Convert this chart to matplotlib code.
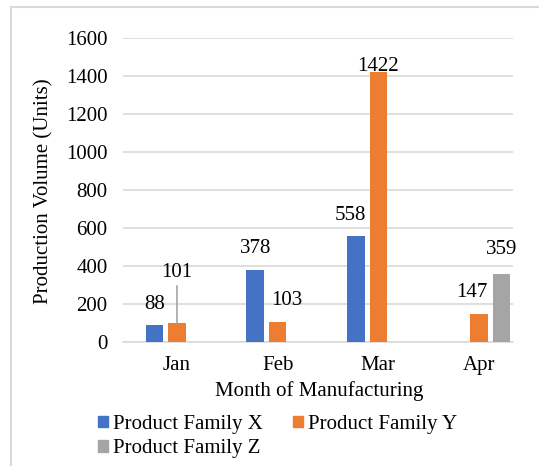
import matplotlib
matplotlib.use("Agg")
import matplotlib.pyplot as plt
import numpy as np
from matplotlib.transforms import offset_copy
from matplotlib.patches import Rectangle, Patch

plt.rcParams['font.family'] = ['Liberation Serif', 'DejaVu Serif']

months = ["Jan", "Feb", "Mar", "Apr"]
series_names = ["Product Family X", "Product Family Y", "Product Family Z"]
family_x = [88, 378, 558, None]
family_y = [101, 103, 1422, 147]
family_z = [None, None, None, 359]
y_ticks = [0, 200, 400, 600, 800, 1000, 1200, 1400, 1600]
x_title = "Month of Manufacturing"
y_title = "Production Volume (Units)"

colors = ["#4472C4", "#ED7D31", "#A5A5A5"]
fs = 15

fig = plt.figure(figsize=(5.39, 4.66), dpi=100)
W, H = 539, 466
# outer chart border
fig.patches.append(Rectangle((11 / W, -0.1), 1.2, (H - 7) / H + 0.1, transform=fig.transFigure,
                             fill=False, edgecolor="#D9D9D9", linewidth=1.5))

ax = fig.add_axes([123 / W, (H - 342) / H, 390 / W, 304 / H])
x = np.arange(len(months))
bw = 0.174
off = 0.2234

# label pixel offsets (dx, dy) relative to bar top center
lab_off = {
    (0, 0): (0, 21), (0, 1): (0, 50),
    (1, 0): (0, 22), (1, 1): (9, 22),
    (2, 0): (-5, 20), (2, 1): (0, 5),
    (3, 1): (-7, 22), (3, 2): (0, 24),
}

for si, vals in enumerate([family_x, family_y, family_z]):
    for ci, v in enumerate(vals):
        if v is None:
            continue
        xc = x[ci] + (si - 1) * off
        ax.bar(xc, v, width=bw, color=colors[si], zorder=3)
        dx, dy = lab_off.get((ci, si), (0, 22))
        tr = offset_copy(ax.transData, fig=fig, x=dx, y=dy, units='dots')
        ax.text(xc, v, str(v), transform=tr, ha='center', va='center', fontsize=fs, zorder=4)
        if (ci, si) == (0, 1):
            ax.annotate("", xy=(xc, v), xytext=(0, 37), textcoords='offset pixels',
                        arrowprops=dict(arrowstyle='-', color="#A5A5A5", lw=1.2,
                                        shrinkA=0, shrinkB=0))

ax.set_xlim(-0.536, 3.337)
ax.set_ylim(0, 1600)
ax.set_yticks(y_ticks)
ax.set_yticklabels([str(t) for t in y_ticks], fontsize=fs)
ax.set_xticks(x)
ax.set_xticklabels(months, fontsize=fs)
ax.tick_params(axis='both', length=0)
ax.tick_params(axis='y', pad=11)
ax.tick_params(axis='x', pad=10)
ax.grid(axis='y', color="#D9D9D9", linewidth=1.2, zorder=0)
for s in ["top", "right", "left"]:
    ax.spines[s].set_visible(False)
ax.spines["bottom"].set_color("#D9D9D9")
ax.spines["bottom"].set_linewidth(1.2)

fig.text(319 / W, 1 - 391 / H, x_title, ha='center', va='center', fontsize=fs)
fig.text(44 / W, 1 - 191 / H, y_title, ha='center', va='center', rotation=90, fontsize=fs)

handles = [Patch(color=colors[0]), Patch(color=colors[2]), Patch(color=colors[1])]
labels = [series_names[0], series_names[2], series_names[1]]
fig.legend(handles, labels, ncol=2, loc='upper left', bbox_to_anchor=(98 / W, 1 - 415 / H),
           frameon=False, fontsize=fs, handlelength=0.48, handleheight=0.48,
           handletextpad=0.25, columnspacing=1.42, labelspacing=0.25, borderpad=0,
           borderaxespad=0)

fig.savefig("out.png", dpi=100)
